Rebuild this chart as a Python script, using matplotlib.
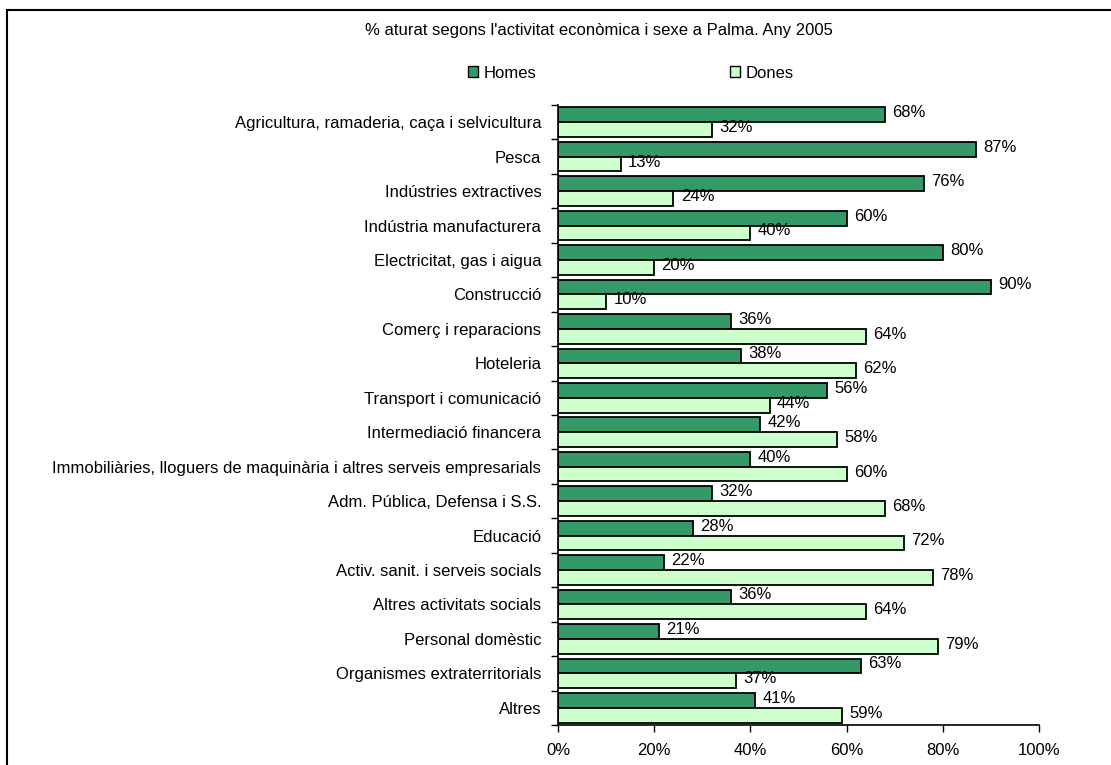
import matplotlib
matplotlib.use("Agg")
import matplotlib.pyplot as plt
from matplotlib.patches import Rectangle, Patch
import numpy as np

plt.rcParams['font.family'] = ['Liberation Sans', 'DejaVu Sans']

categories = [
    "Agricultura, ramaderia, caça i selvicultura",
    "Pesca",
    "Indústries extractives",
    "Indústria manufacturera",
    "Electricitat, gas i aigua",
    "Construcció",
    "Comerç i reparacions",
    "Hoteleria",
    "Transport i comunicació",
    "Intermediació financera",
    "Immobiliàries, lloguers de maquinària i altres serveis empresarials",
    "Adm. Pública, Defensa i S.S.",
    "Educació",
    "Activ. sanit. i serveis socials",
    "Altres activitats socials",
    "Personal domèstic",
    "Organismes extraterritorials",
    "Altres",
]
homes = [68, 87, 76, 60, 80, 90, 36, 38, 56, 42, 40, 32, 28, 22, 36, 21, 63, 41]
dones = [32, 13, 24, 40, 20, 10, 64, 62, 44, 58, 60, 68, 72, 78, 64, 79, 37, 59]
xticks = [0, 20, 40, 60, 80, 100]
title = "% aturat segons l'activitat econòmica i sexe a Palma. Any 2005"

c_homes = "#339966"
c_dones = "#CCFFCC"
fs = 12

W, H = 1111, 765
fig = plt.figure(figsize=(W / 100, H / 100), dpi=100)
ax = fig.add_axes([558 / W, 1 - 725 / H, (1039 - 558) / W, (725 - 105) / H])

n = len(categories)
y = np.arange(n)
h = 0.43
ax.barh(y - h / 2, homes, height=h, color=c_homes, edgecolor="black", linewidth=1.3)
ax.barh(y + h / 2, dones, height=h, color=c_dones, edgecolor="black", linewidth=1.3)

for i in range(n):
    ax.text(homes[i] + 1.5, y[i] - h / 2 - 0.06, f"{homes[i]}%", va="center", ha="left", fontsize=fs)
    ax.text(dones[i] + 1.5, y[i] + h / 2 - 0.06, f"{dones[i]}%", va="center", ha="left", fontsize=fs)

ax.set_xlim(0, 100)
ax.set_ylim(n - 0.5, -0.5)
ax.set_xticks(xticks)
ax.set_xticklabels([f"{t}%" for t in xticks], fontsize=fs)
ax.set_yticks(np.arange(n + 1) - 0.5)
ax.set_yticklabels([])
ax.set_yticks(y, minor=True)
ax.set_yticklabels(categories, minor=True, fontsize=fs)
ax.tick_params(axis="y", which="minor", length=0, pad=12)
ax.tick_params(axis="y", which="major", length=5, width=1, direction="out")
ax.tick_params(axis="x", length=5, width=1, direction="out", pad=8)
for s in ["top", "right"]:
    ax.spines[s].set_visible(False)
for s in ["left", "bottom"]:
    ax.spines[s].set_linewidth(1.2)

fig.text(599 / W, 1 - 30 / H, title, ha="center", va="center", fontsize=fs)

handles = [Patch(facecolor=c_homes, edgecolor="black", label="Homes"),
           Patch(facecolor=c_dones, edgecolor="black", label="Dones")]
fig.legend(handles=handles, loc="center left", bbox_to_anchor=(468 / W, 1 - 73 / H),
           ncol=2, frameon=False, fontsize=fs, handlelength=0.6, handleheight=0.6,
           handletextpad=0.35, columnspacing=11.6, borderaxespad=0, borderpad=0)

fig.patches.append(Rectangle((7 / W, -0.1), 1.2, 1 - 10.5 / H + 0.1,
                             transform=fig.transFigure, fill=False, edgecolor="black",
                             linewidth=1.5))

fig.savefig("out.png", dpi=100)
